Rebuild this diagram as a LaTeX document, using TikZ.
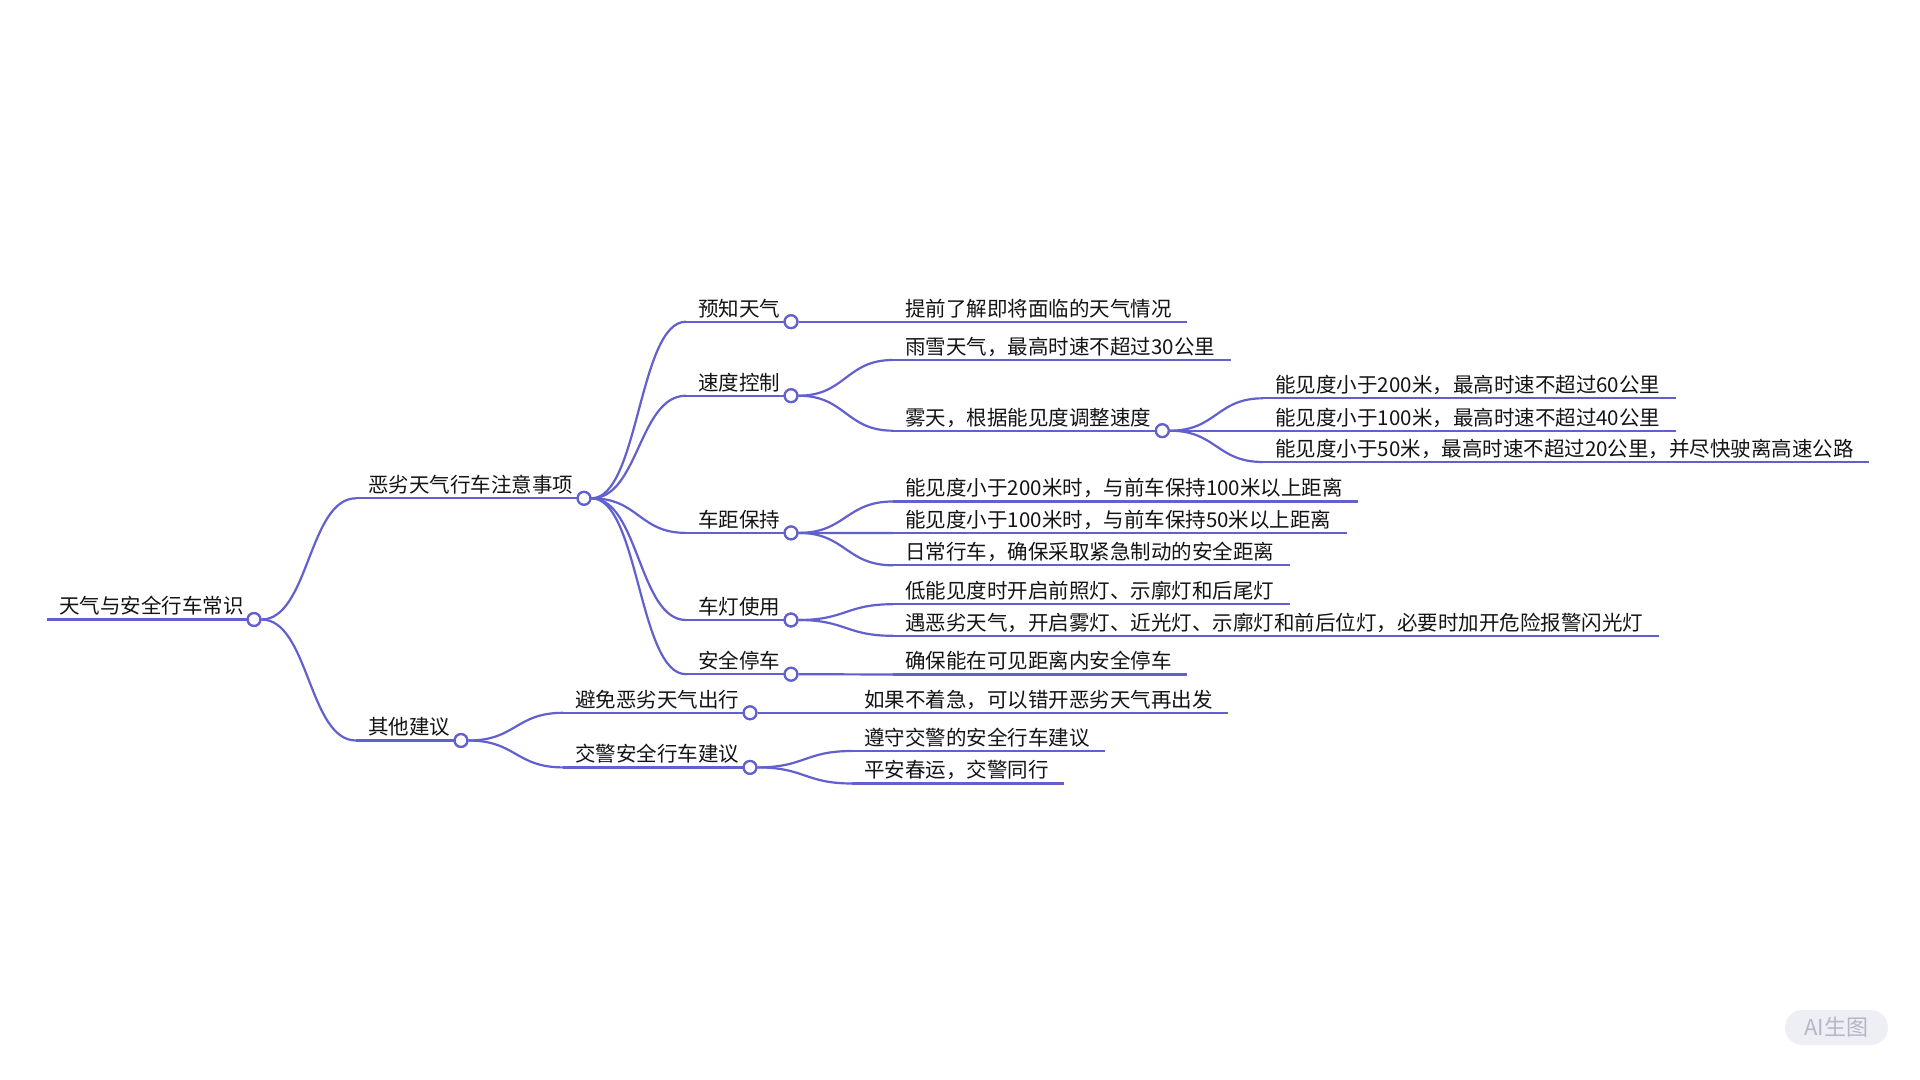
\documentclass[tikz,border=0pt]{standalone}
\usepackage{fontspec}
\setmainfont{Noto Sans CJK SC}
\usetikzlibrary{calc}
\definecolor{linkc}{RGB}{98,96,206}
\definecolor{wmfill}{RGB}{238,238,245}
\definecolor{wmtext}{RGB}{182,182,198}
\definecolor{txtc}{RGB}{20,20,20}
\newcommand\leafnode[4]{%
  \coordinate (s#1) at (#2,#3);
  \node[mmtext] (t#1) at (s#1) {#4};
  \path (t#1.east |- s#1) ++(7.5pt,0) coordinate (e#1);
  \draw[link] (s#1) -- (e#1);}
\newcommand\innernode[5]{%
  \coordinate (s#1) at (#2,#3);
  \node[mmtext] (t#1) at (s#1) {#4};
  \node[dot] (c#1) at (#5,#3) {};
  \draw[link] (s#1) -- (c#1.west);}
\newcommand\mmlink[2]{%
  \draw[link] let \p1=(c#1.east), \p2=(s#2) in
    (\p1) .. controls ({(\x1+\x2)/2},\y1) and ({(\x1+\x2)/2},\y2) .. (\p2);}
\begin{document}
\begin{tikzpicture}[x=0.5pt,y=-0.5pt,
  link/.style={draw=linkc,line width=1.1pt},
  mmtext/.style={anchor=base west,inner sep=0pt,xshift=6pt,yshift=2.8pt,
    text=txtc,font=\fontsize{10.25pt}{12pt}\selectfont},
  dot/.style={circle,draw=linkc,fill=white,line width=1.1pt,minimum size=6.4pt,inner sep=0pt}]
\useasboundingbox[fill=white] (0,0) rectangle (1920,1080);
% root
\coordinate (sroot) at (47,619.5);
\node[mmtext,xshift=-0.15pt] (troot) at (sroot) {天气与安全行车常识};
\node[dot] (croot) at (254,619.5) {};
\draw[link] (sroot) -- (croot.west);
% level 1
\innernode{a}{356}{498.3}{恶劣天气行车注意事项}{584}
\innernode{b}{356}{740.5}{其他建议}{461}
% level 2
\innernode{aa}{686}{321.7}{预知天气}{791}
\innernode{ab}{686}{395.7}{速度控制}{791}
\innernode{ac}{686}{532.9}{车距保持}{791}
\innernode{ad}{686}{620}{车灯使用}{791}
\innernode{ae}{686}{674.2}{安全停车}{791}
\innernode{ba}{563}{712.8}{避免恶劣天气出行}{750}
\innernode{bb}{563}{767.4}{交警安全行车建议}{750}
% level 3
\leafnode{aaa}{893}{321.7}{提前了解即将面临的天气情况}
\leafnode{aba}{893}{360}{雨雪天气，最高时速不超过30公里}
\innernode{abb}{893}{430.7}{雾天，根据能见度调整速度}{1162.3}
\leafnode{abba}{1263}{398.3}{能见度小于200米，最高时速不超过60公里}
\leafnode{abbb}{1263}{430.7}{能见度小于100米，最高时速不超过40公里}
\leafnode{abbc}{1263}{462}{能见度小于50米，最高时速不超过20公里，并尽快驶离高速公路}
\leafnode{aca}{893}{501.5}{能见度小于200米时，与前车保持100米以上距离}
\leafnode{acb}{893}{533}{能见度小于100米时，与前车保持50米以上距离}
\leafnode{acc}{893}{565.3}{日常行车，确保采取紧急制动的安全距离}
\leafnode{ada}{893}{604.2}{低能见度时开启前照灯、示廓灯和后尾灯}
\leafnode{adb}{893}{635.8}{遇恶劣天气，开启雾灯、近光灯、示廓灯和前后位灯，必要时加开危险报警闪光灯}
\leafnode{aea}{893}{674.5}{确保能在可见距离内安全停车}
\leafnode{baa}{852}{712.8}{如果不着急，可以错开恶劣天气再出发}
\leafnode{bba}{852}{751}{遵守交警的安全行车建议}
\leafnode{bbb}{852}{783.5}{平安春运，交警同行}
% connectors
\mmlink{root}{a}
\mmlink{root}{b}
\mmlink{a}{aa}
\mmlink{a}{ab}
\mmlink{a}{ac}
\mmlink{a}{ad}
\mmlink{a}{ae}
\mmlink{b}{ba}
\mmlink{b}{bb}
\mmlink{aa}{aaa}
\mmlink{ab}{aba}
\mmlink{ab}{abb}
\mmlink{abb}{abba}
\mmlink{abb}{abbb}
\mmlink{abb}{abbc}
\mmlink{ac}{aca}
\mmlink{ac}{acb}
\mmlink{ac}{acc}
\mmlink{ad}{ada}
\mmlink{ad}{adb}
\mmlink{ae}{aea}
\mmlink{ba}{baa}
\mmlink{bb}{bba}
\mmlink{bb}{bbb}
% redraw circles on top
\foreach \n in {root,a,b,aa,ab,ac,ad,ae,ba,bb,abb}{\node[dot] at (c\n) {};}
% watermark
\node[fill=wmfill,rounded corners=8.7pt,minimum width=51.5pt,minimum height=17.5pt,inner sep=0pt,
  text=wmtext,font=\fontsize{11pt}{12pt}\selectfont] (wm) at (1836.5,1027.5) {AI生图};
\end{tikzpicture}
\end{document}
